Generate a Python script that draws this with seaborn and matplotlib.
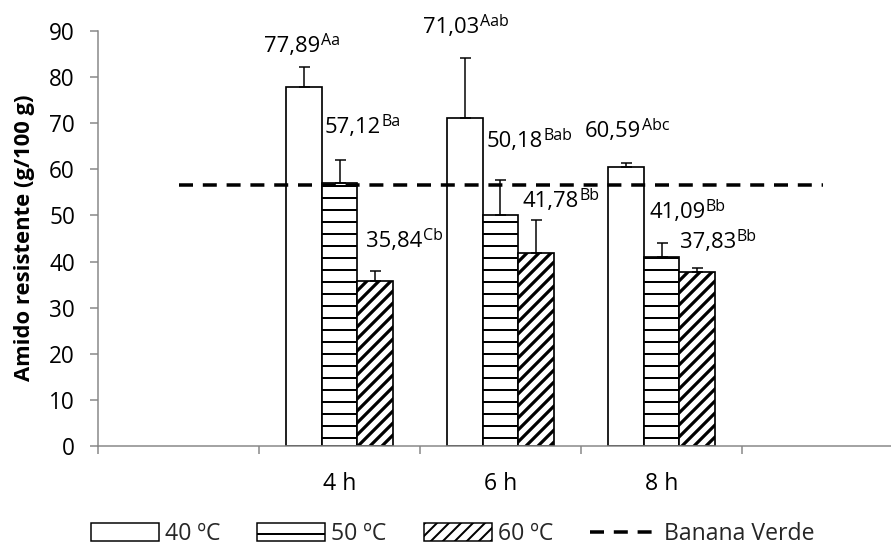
import numpy as np
import pandas as pd
import matplotlib
matplotlib.use("Agg")
import matplotlib.pyplot as plt
from matplotlib.patches import Patch, Rectangle
from matplotlib.lines import Line2D
import seaborn as sns

# Resistant starch by drying time and temperature
tempos = ["4 h", "6 h", "8 h"]
temperaturas = ["40 ºC", "50 ºC", "60 ºC"]
amido_40 = [77.89, 71.03, 60.59]
amido_50 = [57.12, 50.18, 41.09]
amido_60 = [35.84, 41.78, 37.83]
erro_40 = [4.4, 13.2, 0.7]
erro_50 = [5.0, 7.4, 2.9]
erro_60 = [2.2, 7.3, 0.7]
letras_40 = ["Aa", "Aab", "Abc"]
letras_50 = ["Ba", "Bab", "Bb"]
letras_60 = ["Cb", "Bb", "Bb"]
banana_verde = 56.7
eixo_x = ["", "4 h", "6 h", "8 h", " "]
yticks = list(range(0, 91, 10))

# label placement (points from bar centre / bar top), one row per time
label_offsets = [
    [(-40, 34.6), (-15, 49.4), (-8.6, 33.6)],
    [(-42, 85.3), (-13.5, 67.5), (-13, 46.2)],
    [(-41, 29.4), (-12.5, 38.4), (-17, 23.5)],
]

sns.set_style("white")
plt.rcParams["font.family"] = ["Open Sans", "DejaVu Sans"]
plt.rcParams["hatch.linewidth"] = 2.0
plt.rcParams["hatch.color"] = "black"

valores = [amido_40, amido_50, amido_60]
erros = [erro_40, erro_50, erro_60]
letras = [letras_40, letras_50, letras_60]
df = pd.DataFrame({
    "tempo": [t for _ in temperaturas for t in tempos],
    "temperatura": [tp for tp in temperaturas for _ in tempos],
    "valor": [v for serie in valores for v in serie],
})

DPI = 72
BAR_GROUP = 0.66
fig = plt.figure(figsize=(891 / DPI, 547 / DPI), dpi=DPI)
ax = fig.add_axes([98 / 891, 1 - 446 / 547, (903 - 98) / 891, (446 - 31) / 547])

sns.barplot(
    data=df, x="tempo", y="valor", hue="temperatura",
    order=eixo_x, hue_order=temperaturas,
    palette={t: "white" for t in temperaturas},
    width=BAR_GROUP, gap=0, errorbar=None, edgecolor="black", linewidth=1.7,
    legend=False, ax=ax, zorder=2,
)

hatches = ["", "-", "//"]
hatch_lw = [1.0, 2.0, 3.2]


def style_hatch(patch, k):
    patch.set_hatch(hatches[k])
    if hasattr(patch, "set_hatch_linewidth"):
        patch.set_hatch_linewidth(hatch_lw[k])


step = BAR_GROUP / len(temperaturas)
for bar in list(ax.patches):
    if not isinstance(bar, Rectangle):
        continue
    h = bar.get_height()
    if h is None or not np.isfinite(h) or h == 0:
        continue
    cx = bar.get_x() + bar.get_width() / 2
    cat = int(round(cx))
    i = int(round((cx - cat) / step)) + 1
    j = tempos.index(eixo_x[cat])
    style_hatch(bar, i)
    v = valores[i][j]
    ax.errorbar(cx, v, yerr=[[0], [erros[i][j]]], fmt="none", ecolor="black",
                elinewidth=1.5, capsize=5.5, capthick=1.5, zorder=4)
    dx, dy = label_offsets[j][i]
    main = ax.annotate(f"{v:.2f}".replace(".", ","), xy=(cx, v), xytext=(dx, dy),
                       textcoords="offset points", ha="left", va="baseline",
                       fontsize=22, color="black", zorder=5)
    ax.annotate(letras[i][j], xy=(1, 1), xycoords=main, xytext=(0.5, 3),
                textcoords="offset points", ha="left", va="top",
                fontsize=16, color="black", zorder=5)

# reference line for green banana
pos = np.arange(len(eixo_x))
ax.plot(pos, [banana_verde] * len(eixo_x), color="black", lw=3.5,
        ls=(0, (4, 2.8)), zorder=3)

ax.set_xlim(-0.5, len(eixo_x) - 0.5)
ax.set_ylim(0, 90)
ax.set_xlabel("")
ax.set_ylabel("")

ax.set_xticks(np.arange(len(eixo_x) + 1) - 0.5)
ax.set_xticklabels([])
ax.set_xticks(pos, minor=True)
ax.set_xticklabels(eixo_x, minor=True)
ax.set_yticks(yticks)
ax.set_yticklabels([str(t) for t in yticks])

gray = "#868686"
ax.tick_params(axis="x", which="major", bottom=True, length=8, width=1.5,
               color=gray, direction="out")
ax.tick_params(axis="x", which="minor", bottom=True, length=0, pad=26,
               labelsize=23, labelcolor="black")
ax.tick_params(axis="y", left=True, length=8, width=1.5, color=gray,
               direction="out", pad=15, labelsize=22.5, labelcolor="black")

sns.despine(ax=ax)
for s in ("left", "bottom"):
    ax.spines[s].set_color(gray)
    ax.spines[s].set_linewidth(1.5)

fig.text(25 / 891, 1 - 238 / 547, "Amido resistente (g/100 g)", rotation=90,
         ha="center", va="center", fontsize=22, fontweight="bold", color="black")

handles = []
for k in range(len(hatches)):
    p = Patch(facecolor="white", edgecolor="black", lw=1.5)
    style_hatch(p, k)
    handles.append(p)
handles.append(Line2D([0], [0], color="black", lw=3.5, ls=(0, (4, 2.8))))
fig.legend(handles, temperaturas + ["Banana Verde"], loc="center left",
           bbox_to_anchor=(91 / 891, 13 / 547), ncol=4, frameon=False,
           fontsize=23, handlelength=2.96, handleheight=0.78, handletextpad=0.26,
           columnspacing=1.6, borderpad=0, borderaxespad=0)

fig.savefig("out.png", dpi=DPI)
